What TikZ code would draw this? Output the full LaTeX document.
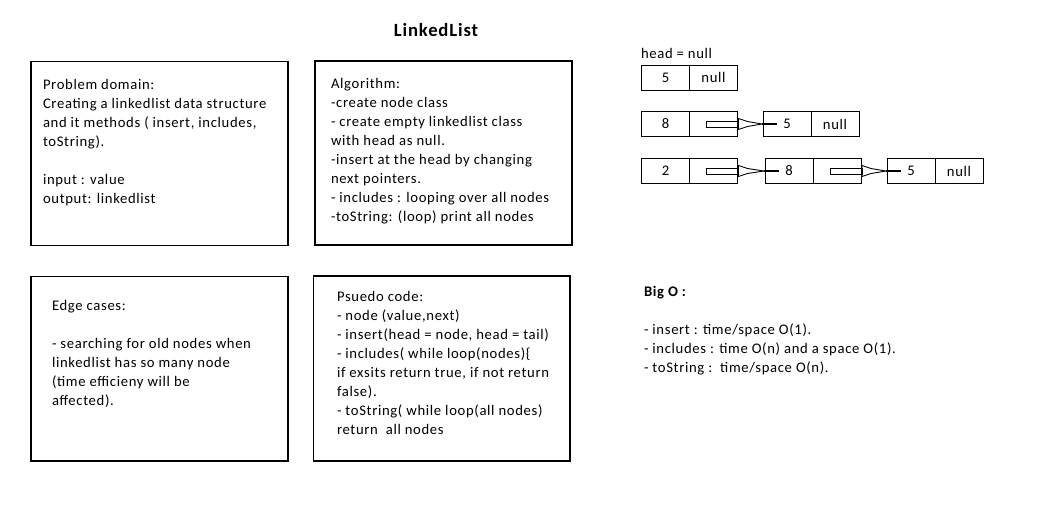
\documentclass[tikz,border=0pt]{standalone}
\usepackage{fontspec}
\setmainfont{Carlito}[LetterSpace=4.5]
\usetikzlibrary{calc}
\begin{document}
\begin{tikzpicture}[x=1pt,y=-1pt,
  every node/.style={inner sep=0pt,outer sep=0pt},
  frame/.style={draw,line width=1.2pt},
  bodytext/.style={anchor=north west,align=left,font=\fontsize{14.67}{19}\selectfont},
  cell/.style={draw,line width=1pt,minimum width=48pt,minimum height=25pt,font=\fontsize{14.67}{19}\selectfont},
  shaftline/.style={line width=0.9pt},
  stub/.style={line width=2pt}
]
\useasboundingbox (0,0) rectangle (1049,515);
% title
\node[font=\bfseries\fontsize{18.67}{22}\selectfont] (title) at (436,30) {LinkedList};
% boxes
\draw[frame] (31,61.5) rectangle (288,245.5) coordinate (b1);
\draw[frame] (315,61) rectangle (572,245) coordinate (b2);
\draw[frame] (31,276.5) rectangle (288,461) coordinate (b3);
\draw[frame] (313.5,276) rectangle (570,461) coordinate (b4);
% texts
\node[bodytext] (t1) at (43,75.7) {\strut Problem domain:\\Creating a linkedlist data structure\\and it methods ( insert, includes,\\toString).\\[19pt]input : value\\output: linkedlist};
\node[bodytext] (t2) at (331,75.2) {\strut Algorithm:\\-create node class\\- create empty linkedlist class\\with head as null.\\-insert at the head by changing\\next pointers.\\- includes : looping over all nodes\\-toString: (loop) print all nodes};
\node[bodytext] (t3) at (52,297.5) {\strut Edge cases:\\[19pt]- searching for old nodes when\\linkedlist has so many node\\(time efficieny will be\\affected).};
\node[bodytext] (t4) at (337,288.5) {\strut Psuedo code:\\- node (value,next)\\- insert(head = node, head = tail)\\- includes( while loop(nodes)\{\\if exsits return true, if not return\\false).\\- toString( while loop(all nodes)\\return\ \ all nodes};
\node[bodytext] (t5) at (644,283.5) {\strut\textbf{Big O :}\\[19pt]- insert : time/space O(1).\\- includes : time O(n) and a space O(1).\\- toString :\ \ time/space O(n).};
% linked list
\node[bodytext,anchor=base west] (head) at (641,58) {head = null};
\node[cell] (a1) at (665.5,77.5) {5};
\node[cell,anchor=west] (a2) at (a1.east) {null};
\node[cell] (b1c) at (665.5,124) {8};
\node[cell,anchor=west] (b1p) at (b1c.east) {};
\node[cell] (b2c) at (787,124) {5};
\node[cell,anchor=west] (b2p) at (b2c.east) {null};
\node[cell] (c1c) at (665.5,171) {2};
\node[cell,anchor=west] (c1p) at (c1c.east) {};
\node[cell] (c2c) at (789,171) {8};
\node[cell,anchor=west] (c2p) at (c2c.east) {};
\node[cell] (c3c) at (911,171) {5};
\node[cell,anchor=west] (c3p) at (c3c.east) {null};
% block arrows
\foreach \p/\q in {b1p/b2c,c1p/c2c,c2p/c3c}{
  \draw[shaftline] ($(\p.center)+(-7,-3)$) rectangle ($(\p.east)+(1,3)$);
  \draw[shaftline] ($(\p.east)+(1,-5.5)$) -- ($(\p.east)+(10,-2.5)$) -- ($(\q.west)+(-1,0)$) -- ($(\p.east)+(10,2.5)$) -- ($(\p.east)+(1,5.5)$) -- cycle;
  \draw[stub] ($(\q.west)+(-1,0)$) -- ($(\q.west)+(14,0)$);
}
\end{tikzpicture}
\end{document}
